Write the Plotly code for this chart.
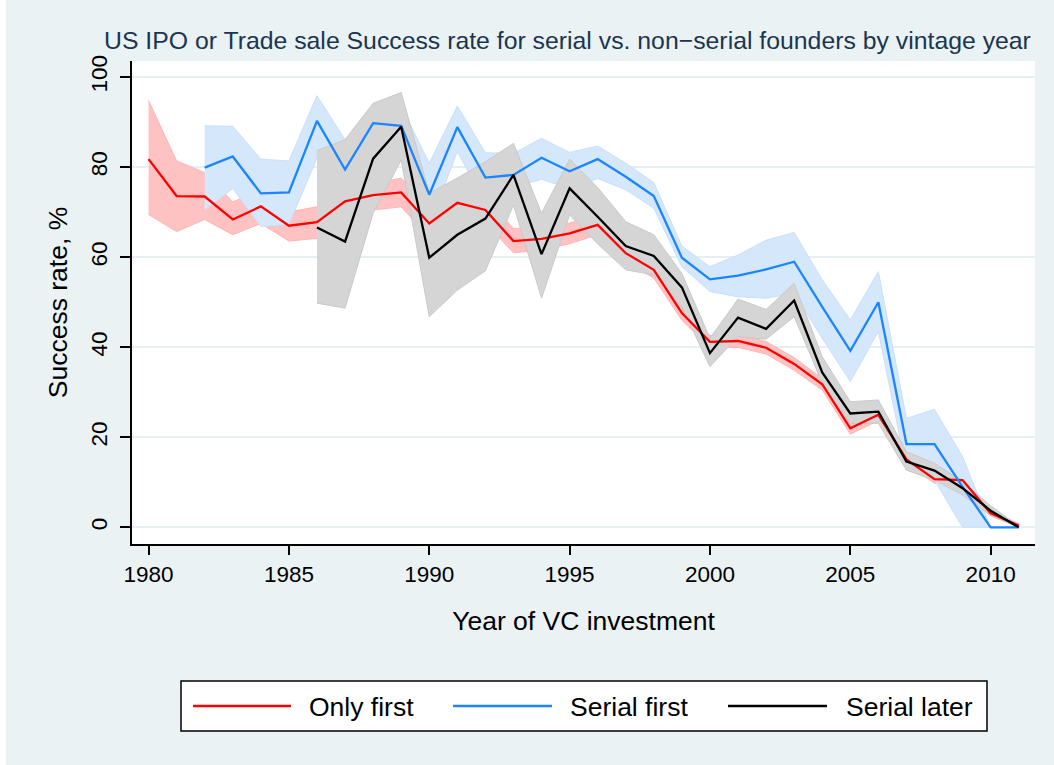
import plotly.graph_objects as go

years = list(range(1980, 2012))

only_first = [81.8, 73.6, 73.5, 68.4, 71.3, 67.0, 67.8, 72.4, 73.8, 74.4,
              67.5, 72.1, 70.5, 63.6, 64.1, 65.3, 67.2, 60.9, 57.2, 47.6,
              41.2, 41.4, 39.9, 36.3, 31.8, 22.0, 25.0, 15.1, 10.7, 10.5,
              3.1, 0.4]
only_first_hi = [94.8, 81.4, 78.8, 72.3, 75.0, 70.1, 71.2, 75.5, 76.3, 77.6,
                 70.8, 75.0, 73.4, 66.4, 66.6, 67.6, 69.4, 62.9, 59.0, 49.2,
                 42.6, 42.8, 41.3, 37.7, 33.1, 23.2, 26.3, 16.1, 11.6, 11.4,
                 3.7, 0.8]
only_first_lo = [69.5, 65.7, 68.4, 65.0, 67.5, 63.6, 64.2, 69.3, 70.5, 71.2,
                 64.4, 69.2, 67.6, 61.0, 61.6, 63.0, 65.0, 58.9, 55.4, 46.0,
                 39.8, 40.0, 38.5, 34.9, 30.5, 20.7, 23.7, 14.1, 9.8, 9.6,
                 2.5, 0.1]

serial_first_years = list(range(1982, 2012))
serial_first = [79.9, 82.4, 74.2, 74.4, 90.3, 79.5, 89.8, 89.2,
                73.9, 88.9, 77.7, 78.3, 82.1, 79.1, 81.8, 77.9, 73.6, 59.9,
                55.1, 55.9, 57.3, 59.0, 49.0, 39.2, 50.0, 18.5, 18.5, 9.0,
                0.0, 0.0]
serial_first_hi = [89.2, 89.1, 81.8, 81.4, 95.9, 86.1, 94.0, 93.5,
                   80.9, 93.6, 83.2, 83.1, 86.4, 83.3, 84.7, 80.9, 76.6, 62.5,
                   57.9, 60.5, 63.8, 65.5, 55.0, 46.1, 56.8, 24.2, 26.2, 15.7,
                   0.0, 0.0]
serial_first_lo = [70.5, 75.3, 66.8, 67.3, 82.0, 72.5, 85.0, 84.5,
                   67.0, 83.5, 72.0, 75.7, 77.3, 75.3, 77.5, 75.0, 70.9, 57.9,
                   52.4, 51.2, 50.9, 52.0, 42.0, 32.4, 43.5, 12.8, 10.5, 0.0,
                   0.0, 0.0]

serial_later_years = list(range(1986, 2012))
serial_later = [66.6, 63.5, 81.9, 89.0,
                59.9, 65.0, 68.6, 78.3, 60.7, 75.3, 69.0, 62.5, 60.3, 53.3,
                38.7, 46.6, 44.1, 50.4, 34.4, 25.3, 25.7, 14.6, 12.6, 8.7,
                3.7, 0.0]
serial_later_hi = [83.7, 86.1, 94.2, 96.6,
                   74.2, 77.6, 81.2, 85.3, 69.8, 81.8, 75.5, 67.9, 65.0, 56.4,
                   42.0, 50.7, 48.4, 54.2, 37.9, 27.9, 28.3, 16.8, 14.2, 10.2,
                   4.8, 0.3]
serial_later_lo = [49.8, 48.7, 69.8, 81.6,
                   46.8, 52.7, 57.0, 71.6, 50.9, 69.4, 63.0, 57.2, 56.1, 49.0,
                   35.7, 42.4, 41.8, 46.8, 32.0, 23.1, 23.1, 12.7, 10.5, 7.2,
                   2.6, 0.0]

series = [
    ("Only first", years, only_first, only_first_hi, only_first_lo,
     "#FF0000", "#FFC2C2", "#FFB4B4"),
    ("Serial first", serial_first_years, serial_first, serial_first_hi,
     serial_first_lo, "#1A85FF", "#D4E7FB", "#C8E0FA"),
    ("Serial later", serial_later_years, serial_later, serial_later_hi,
     serial_later_lo, "#000000", "#D5D5D5", "#C9C9C9"),
]

FONT = "Liberation Sans, Arial, Helvetica, sans-serif"
BG = "#EAF2F3"

fig = go.Figure()

# confidence bands first, lines on top
for name, xs, ys, hi, lo, line_c, fill_c, edge_c in series:
    fig.add_trace(go.Scatter(
        x=xs + xs[::-1], y=hi + lo[::-1],
        fill="toself", fillcolor=fill_c,
        line=dict(color=edge_c, width=1),
        mode="lines", hoverinfo="skip", showlegend=False,
    ))

for name, xs, ys, hi, lo, line_c, fill_c, edge_c in series:
    fig.add_trace(go.Scatter(
        x=xs, y=ys, mode="lines", name=name,
        line=dict(color=line_c, width=2.3),
        showlegend=False,
    ))

# plot area in pixels: x 132..1035, y 61..544
L, R, T, B = 132, 1035, 61, 544
W, H = R - L, B - T


def px(x):
    return (x - L) / W


def py(y):
    return (B - y) / H


shapes = [
    # thin white strip at the far left of the image
    dict(type="rect", xref="paper", yref="paper",
         x0=px(0), x1=px(6), y0=py(765), y1=py(0),
         fillcolor="white", line=dict(width=0), layer="below"),
    # legend box
    dict(type="rect", xref="paper", yref="paper",
         x0=px(181), x1=px(987), y0=py(731), y1=py(681),
         fillcolor="white", line=dict(color="black", width=1.5)),
]
annotations = []
legend_items = [(193, 291, 307), (453, 552, 568), (728, 827, 844)]
for (name, *_rest), (s0, s1, tx) in zip(series, legend_items):
    line_c = _rest[4]
    shapes.append(dict(type="line", xref="paper", yref="paper",
                       x0=px(s0), x1=px(s1), y0=py(706), y1=py(706),
                       line=dict(color=line_c, width=2.3)))
    annotations.append(dict(xref="paper", yref="paper", x=px(tx), y=py(707),
                            text=name, showarrow=False, xanchor="left",
                            yanchor="middle",
                            font=dict(family=FONT, size=26.5, color="black")))

fig.update_layout(
    width=1054, height=765,
    margin=dict(l=L, r=1054 - R, t=T, b=765 - B),
    paper_bgcolor=BG, plot_bgcolor="white",
    font=dict(family=FONT, color="black"),
    title=dict(
        text="US IPO or Trade sale Success rate for serial vs. non\u2212serial founders by vintage year",
        x=104 / 1054, xanchor="left", xref="container",
        y=1 - 40 / 765, yanchor="middle", yref="container",
        font=dict(family=FONT, size=24.8, color="#1C3550"),
    ),
    showlegend=False,
    shapes=shapes,
    annotations=annotations,
)

fig.update_xaxes(
    range=[1979.41, 2011.58],
    tickvals=[1980, 1985, 1990, 1995, 2000, 2005, 2010],
    ticks="outside", ticklen=9, tickwidth=1.5, tickcolor="black",
    showline=True, linecolor="black", linewidth=1.5,
    showgrid=False, zeroline=False,
    tickfont=dict(family=FONT, size=22.5),
    title=dict(text="Year of VC investment", standoff=26,
               font=dict(family=FONT, size=26.5)),
)
fig.update_yaxes(
    range=[-3.7, 103.6],
    tickvals=[0, 20, 40, 60, 80, 100],
    ticks="outside", ticklen=10, tickwidth=1.5, tickcolor="black",
    tickangle=-90, ticklabelstandoff=4,
    showline=True, linecolor="black", linewidth=1.5,
    showgrid=True, gridcolor="#E6EFF1", gridwidth=2,
    zeroline=False,
    tickfont=dict(family=FONT, size=22.5),
    title=dict(text="Success rate, %", standoff=12,
               font=dict(family=FONT, size=26.5)),
)

# the page's default body margin would shift the figure by 8px
fig.write_html("out.html", config={"displayModeBar": False},
               post_script="document.body.style.margin='0';")
